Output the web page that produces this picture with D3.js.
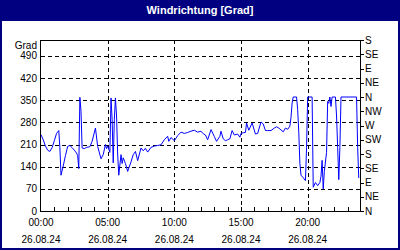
<!DOCTYPE html>
<html>
<head>
<meta charset="utf-8">
<script src="https://cdn.jsdelivr.net/npm/d3@7"></script>
<style>
  body { margin: 0; background: #fff; }
  svg text { font-family: "Liberation Sans", Arial, sans-serif; }
</style>
</head>
<body>
<div id="chart"></div>
<script>
// Windrichtung, 26.08.24, Zeit (HH:MM) und Grad
var times = ["00:00","00:10","00:20","00:30","00:40","00:50","01:00","01:10","01:20","01:25",
  "01:30","01:40","01:50","02:00","02:10","02:20","02:30","02:40","02:45","02:50",
  "02:55","03:00","03:05","03:15","03:25","03:40","03:50","04:05","04:15","04:30",
  "04:40","04:50","04:55","05:00","05:10","05:15","05:20","05:25","05:30","05:35",
  "05:40","05:45","05:50","06:00","06:05","06:10","06:20","06:30","06:45","06:55",
  "07:05","07:15","07:30","07:40","07:50","08:00","08:15","08:30","08:45","09:00",
  "09:15","09:30","09:35","09:45","10:00","10:15","10:30","10:45","11:00","11:15",
  "11:30","11:45","12:00","12:10","12:20","12:30","12:45","13:00","13:10","13:25",
  "13:30","13:40","13:50","14:00","14:10","14:20","14:30","14:45","14:55","15:00",
  "15:10","15:20","15:25","15:35","15:50","16:05","16:15","16:30","16:40","16:50",
  "17:00","17:15","17:30","17:40","17:50","18:00","18:10","18:20","18:30","18:40",
  "18:45","18:50","18:55","19:10","19:15","19:20","19:25","19:30","19:40","19:50",
  "19:55","20:00","20:20","20:25","20:35","20:45","20:55","21:00","21:05","21:10",
  "21:15","21:25","21:30","21:35","21:40","21:45","21:50","22:05","22:10","22:15",
  "22:20","22:25","22:30","23:40","23:45","23:50"];
var grad = [241,225,205,192,188,200,222,245,254,200,
  113,142,175,204,207,200,192,183,175,134,
  359,315,199,197,201,203,220,262,204,165,
  178,210,197,205,185,357,290,152,290,357,
  300,180,113,178,150,168,150,125,155,178,
  188,159,199,190,198,186,201,205,207,209,
  225,236,220,232,222,238,249,245,248,252,
  255,249,252,244,240,225,257,235,220,236,
  252,228,222,225,228,254,240,243,233,245,
  247,248,278,255,278,243,245,281,275,254,
  254,254,262,266,262,256,250,262,258,268,
  296,341,360,360,320,250,150,113,105,96,
  200,360,360,75,90,80,90,110,160,70,
  125,185,346,340,360,330,360,360,300,200,
  99,200,360,360,200,104];

var leftTicks = [0,70,140,210,280,350,420,490];
var rightTicks = [0,45,90,135,180,225,270,315,360,405,450,495,540];
var rightLabels = ["N","NE","E","SE","S","SW","W","NW","N","NE","E","SE","S"];
var timeTicks = ["00:00","05:00","10:00","15:00","20:00"];
var dateLabel = "26.08.24";

var width = 400, height = 250;
var parse = d3.timeParse("%d.%m.%y %H:%M");
var data = times.map(function(t, i) { return {t: parse(dateLabel + " " + t), v: grad[i]}; });

var svg = d3.select('#chart').append('svg')
  .attr('width', width).attr('height', height);

// Rahmen und Titel
svg.append('rect').attr('x', 0).attr('y', 0).attr('width', width).attr('height', height).attr('fill', '#000080');
svg.append('rect').attr('x', 2).attr('y', 21).attr('width', width - 4).attr('height', height - 23).attr('fill', '#fff');
svg.append('text').attr('x', 200).attr('y', 14).attr('text-anchor', 'middle')
  .attr('fill', '#fff').attr('font-weight', 'bold').attr('font-size', '11px')
  .text('Windrichtung [Grad]');

var x = d3.scaleTime()
  .domain([parse(dateLabel + " 00:00"), d3.timeDay.offset(parse(dateLabel + " 00:00"), 1)])
  .range([41, 361]);
var y = d3.scaleLinear().domain([0, 540]).range([211, 40]);

// Gitter
svg.append('g').selectAll('line').data(leftTicks.slice(1)).enter().append('line')
  .attr('x1', 41).attr('x2', 361)
  .attr('y1', function(d) { return Math.round(y(d)) + 0.5; })
  .attr('y2', function(d) { return Math.round(y(d)) + 0.5; })
  .attr('stroke', '#000').attr('stroke-dasharray', '4,3');
svg.append('g').selectAll('line').data(timeTicks.slice(1)).enter().append('line')
  .attr('x1', function(d) { return Math.round(x(parse(dateLabel + " " + d))) + 0.5; })
  .attr('x2', function(d) { return Math.round(x(parse(dateLabel + " " + d))) + 0.5; })
  .attr('y1', 40).attr('y2', 211)
  .attr('stroke', '#000').attr('stroke-dasharray', '4,3');

// Linie
var line = d3.line()
  .x(function(d) { return x(d.t); })
  .y(function(d) { return y(d.v); });
svg.append('path').datum(data)
  .attr('d', line).attr('fill', 'none')
  .attr('stroke', '#0000ff').attr('stroke-width', 1);

// Achsen
svg.append('rect').attr('x', 40.5).attr('y', 40.5).attr('width', 320).attr('height', 171)
  .attr('fill', 'none').attr('stroke', '#000');

svg.append('g').selectAll('line').data(d3.range(1, 24)).enter().append('line')
  .attr('x1', function(d) { return Math.round(x(d3.timeHour.offset(x.domain()[0], d))) + 0.5; })
  .attr('x2', function(d) { return Math.round(x(d3.timeHour.offset(x.domain()[0], d))) + 0.5; })
  .attr('y1', 211).attr('y2', 207).attr('stroke', '#000');

svg.append('g').selectAll('text').data(leftTicks).enter().append('text')
  .attr('x', 37).attr('y', function(d) { return y(d); })
  .attr('dy', '0.35em').attr('text-anchor', 'end').attr('font-size', '10px')
  .text(function(d) { return d; });
svg.append('text').attr('x', 37).attr('y', 45).attr('dy', '0.35em')
  .attr('text-anchor', 'end').attr('font-size', '10px').text('Grad');

var right = svg.append('g');
right.selectAll('line').data(rightTicks).enter().append('line')
  .attr('x1', 361).attr('x2', 364)
  .attr('y1', function(d) { return Math.round(y(d)) + 0.5; })
  .attr('y2', function(d) { return Math.round(y(d)) + 0.5; })
  .attr('stroke', '#000');
right.selectAll('text').data(rightTicks).enter().append('text')
  .attr('x', 365).attr('y', function(d) { return y(d); })
  .attr('dy', '0.35em').attr('font-size', '10px')
  .text(function(d, i) { return rightLabels[i]; });

var xl = svg.append('g').selectAll('g').data(timeTicks).enter().append('g')
  .attr('transform', function(d) { return 'translate(' + x(parse(dateLabel + " " + d)) + ',0)'; });
xl.append('text').attr('y', 222).attr('dy', '0.35em').attr('text-anchor', 'middle')
  .attr('font-size', '10px').text(function(d) { return d; });
xl.append('text').attr('y', 239).attr('dy', '0.35em').attr('text-anchor', 'middle')
  .attr('font-size', '10px').text(dateLabel);
</script>
</body>
</html>
